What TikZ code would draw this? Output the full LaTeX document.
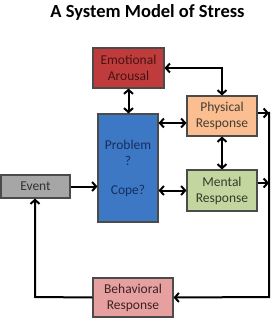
\documentclass[tikz,border=0pt]{standalone}
\usepackage{fontspec}
\setmainfont{Carlito}
\usetikzlibrary{arrows.meta}
\definecolor{emofill}{RGB}{192,60,60}
\definecolor{emotext}{RGB}{70,20,20}
\definecolor{physfill}{RGB}{250,190,145}
\definecolor{physext}{RGB}{70,60,50}
\definecolor{probfill}{RGB}{60,120,195}
\definecolor{probtext}{RGB}{25,45,95}
\definecolor{mentfill}{RGB}{196,214,160}
\definecolor{menttext}{RGB}{50,60,40}
\definecolor{evfill}{RGB}{166,166,166}
\definecolor{evtext}{RGB}{50,50,50}
\definecolor{behfill}{RGB}{230,160,160}
\definecolor{behtext}{RGB}{60,35,35}
\definecolor{border}{RGB}{75,75,75}
\tikzset{
  boxnode/.style={draw=border, line width=1.1pt, inner sep=0pt, align=center,
    font=\fontsize{13.5}{16}\selectfont},
  conn/.style={line width=2pt, >={Straight Barb[length=4pt,width=9pt]}},
}
\begin{document}
\begin{tikzpicture}[x=1pt,y=-1pt]
\useasboundingbox (0,0) rectangle (273,320);
\node[font=\fontsize{18.5}{22}\bfseries\selectfont] (title) at (147.5,12) {A System Model of Stress};
\node[boxnode, fill=emofill, text=emotext, minimum width=71pt, minimum height=40pt] (emo) at (128.5,68) {Emotional\\Arousal};
\node[boxnode, fill=physfill, text=physext, minimum width=70pt, minimum height=40pt] (phys) at (222,116) {Physical\\Response};
\node[boxnode, fill=probfill, text=probtext, minimum width=60pt, minimum height=108pt] (prob) at (128,168) {Problem\\?\\[13pt]Cope?};
\node[boxnode, fill=mentfill, text=menttext, minimum width=70pt, minimum height=41pt] (ment) at (222,190.5) {Mental\\Response};
\node[boxnode, fill=evfill, text=evtext, minimum width=69pt, minimum height=23pt] (event) at (35.5,186.5) {Event};
\node[boxnode, fill=behfill, text=behtext, minimum width=80pt, minimum height=39pt] (behav) at (133,297.5) {Behavioral\\Response};
\coordinate (ypp) at (0,123);
\coordinate (yrp) at (0,113);
\coordinate (yrm) at (0,183);
\coordinate (rtop) at (269,112);
\coordinate (rbot) at (269,297);
\coordinate (lbot) at (35,297);
\draw[conn,<->] (emo.south) -- (emo.south |- prob.north);
\draw[conn,<->] (emo.east) -| (phys.north);
\draw[conn,<->] (prob.east |- ypp) -- (phys.west |- ypp);
\draw[conn,<->] (phys.south) -- (ment.north);
\draw[conn,<->] (prob.east |- ment.west) -- (ment.west);
\draw[conn,->] (event.east) -- (event.east -| prob.west);
\draw[conn,->] (phys.east |- yrp) -- (rtop |- yrp);
\draw[conn,->] (ment.east |- yrm) -- (rtop |- yrm);
\draw[conn,->] (rtop) -- (rbot) -- (behav.east);
\draw[conn,->] (behav.west) -- (lbot) -- (event.south -| lbot);
\end{tikzpicture}
\end{document}
